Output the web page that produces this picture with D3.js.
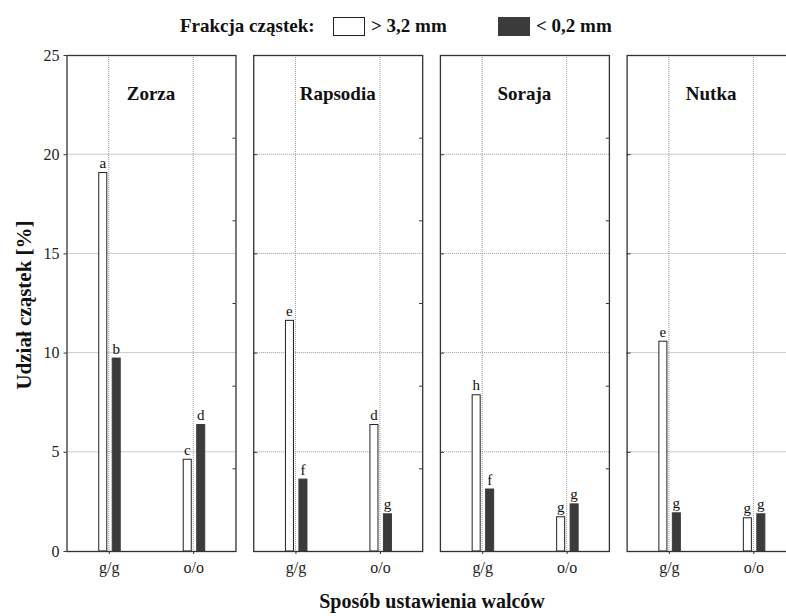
<!DOCTYPE html>
<html>
<head>
<meta charset="utf-8">
<script src="https://cdn.jsdelivr.net/npm/d3@7"></script>
<style>
  body { margin: 0; background: #fff; }
  svg { display: block; font-family: "Liberation Serif", "Times New Roman", serif; }
</style>
</head>
<body>
<svg id="chart" width="786" height="616"></svg>
<script>
// values (udział cząstek, %)
var cultivars = ["Zorza", "Rapsodia", "Soraja", "Nutka"];
var settings = ["g/g", "o/o"];
var fractions = ["> 3,2 mm", "< 0,2 mm"];
var coarse = [[19.1, 4.65], [11.65, 6.4], [7.9, 1.75], [10.6, 1.7]];
var fine = [[9.75, 6.4], [3.65, 1.9], [3.15, 2.4], [1.95, 1.9]];
var coarseLetters = [["a", "c"], ["e", "d"], ["h", "g"], ["e", "g"]];
var fineLetters = [["b", "d"], ["f", "g"], ["f", "g"], ["g", "g"]];
var yTicks = [0, 5, 10, 15, 20, 25];

var svg = d3.select("#chart");
var frameColor = "#333";
var darkFill = "#3b3b3b";

var plotTop = 55, plotBottom = 551;
var y = d3.scaleLinear().domain([0, 25]).range([plotBottom, plotTop]);
// the little ticks on the right edge follow a 0-30 scale
var yRight = d3.scaleLinear().domain([0, 30]).range([plotBottom, plotTop]);

var panel = d3.scaleBand()
    .domain(cultivars)
    .range([66.5, 795.6])
    .paddingInner(0.095);
var pw = panel.bandwidth();

var x = d3.scalePoint().domain(settings).range([0, pw]).padding(0.5);
var sub = d3.scaleBand().domain(fractions).range([-10.5, 12]).paddingInner(0.33);

cultivars.forEach(function(name, i) {
  var g = svg.append("g").attr("transform", "translate(" + panel(name) + ",0)");

  // grid
  g.append("g").selectAll("line")
    .data(yTicks.slice(1, -1))
    .enter().append("line")
      .attr("x1", 0).attr("x2", pw)
      .attr("y1", function(d) { return y(d); })
      .attr("y2", function(d) { return y(d); })
      .attr("stroke", "#999").attr("stroke-dasharray", "1,1");
  g.append("g").selectAll("line")
    .data(settings)
    .enter().append("line")
      .attr("x1", function(d) { return x(d); })
      .attr("x2", function(d) { return x(d); })
      .attr("y1", plotTop).attr("y2", plotBottom)
      .attr("stroke", "#999").attr("stroke-dasharray", "1,1");

  // bars
  settings.forEach(function(s, j) {
    var vals = [coarse[i][j], fine[i][j]];
    var lets = [coarseLetters[i][j], fineLetters[i][j]];
    fractions.forEach(function(f, k) {
      var bx = x(s) + sub(f);
      g.append("rect")
        .attr("x", bx + 0.5)
        .attr("y", y(vals[k]) + 0.5)
        .attr("width", sub.bandwidth() - 1)
        .attr("height", y(0) - y(vals[k]) - 0.5)
        .attr("fill", k === 0 ? "#fff" : darkFill)
        .attr("stroke", k === 0 ? "#222" : darkFill)
        .attr("stroke-width", 1);
      g.append("text")
        .attr("x", bx + sub.bandwidth() / 2)
        .attr("y", y(vals[k]) - 4)
        .attr("text-anchor", "middle")
        .attr("font-size", 15)
        .attr("fill", "#111")
        .text(lets[k]);
    });
  });

  // right edge ticks
  g.append("g")
    .attr("transform", "translate(" + pw + ",0)")
    .call(d3.axisLeft(yRight).tickValues([5, 10, 15, 20, 25]).tickSize(3).tickFormat(""))
    .call(function(a) { a.select(".domain").remove(); a.selectAll("line").attr("stroke", frameColor); });

  // left axis
  if (i === 0) {
    g.append("g")
      .call(d3.axisLeft(y).tickValues(yTicks).tickSize(3).tickPadding(4).tickSizeOuter(0))
      .call(function(a) {
        a.select(".domain").remove();
        a.selectAll("line").attr("stroke", frameColor);
        a.selectAll("text")
          .attr("font-family", "Liberation Serif")
          .attr("font-size", 16)
          .attr("fill", "#222");
      });
  } else {
    g.append("g")
      .call(d3.axisRight(y).tickValues(yTicks.slice(1, -1)).tickSize(4).tickFormat(""))
      .call(function(a) { a.select(".domain").remove(); a.selectAll("line").attr("stroke", frameColor); });
  }

  // bottom axis
  g.append("g")
    .attr("transform", "translate(0," + plotBottom + ")")
    .call(d3.axisBottom(x).tickSize(3).tickPadding(8).tickSizeOuter(0))
    .call(function(a) {
      a.select(".domain").remove();
      a.selectAll("line").attr("stroke", frameColor);
      a.selectAll("text")
        .attr("font-family", "Liberation Serif")
        .attr("font-size", 16)
        .attr("fill", "#222");
    });

  // frame
  g.append("rect")
    .attr("x", 0.5).attr("y", plotTop + 0.5)
    .attr("width", pw).attr("height", plotBottom - plotTop)
    .attr("fill", "none")
    .attr("stroke", frameColor)
    .attr("stroke-width", 1.3);

  // cultivar name
  g.append("text")
    .attr("x", pw / 2)
    .attr("y", 100)
    .attr("text-anchor", "middle")
    .attr("font-size", 19)
    .attr("font-weight", "bold")
    .attr("fill", "#111")
    .text(name);
});

// axis titles
svg.append("text")
  .attr("transform", "translate(31,305) rotate(-90)")
  .attr("text-anchor", "middle")
  .attr("font-size", 21)
  .attr("font-weight", "bold")
  .attr("fill", "#111")
  .text("Udział cząstek [%]");

svg.append("text")
  .attr("x", 432)
  .attr("y", 608)
  .attr("text-anchor", "middle")
  .attr("font-size", 20)
  .attr("font-weight", "bold")
  .attr("fill", "#111")
  .text("Sposób ustawienia walców");

// legend
var legend = svg.append("g");
legend.append("text")
  .attr("x", 180).attr("y", 32)
  .attr("font-size", 19).attr("font-weight", "bold").attr("fill", "#111")
  .text("Frakcja cząstek:");
var legX = [333, 498];
fractions.forEach(function(f, k) {
  legend.append("rect")
    .attr("x", legX[k] + 0.5).attr("y", 17.5)
    .attr("width", 31).attr("height", 18)
    .attr("fill", k === 0 ? "#fff" : darkFill)
    .attr("stroke", k === 0 ? "#222" : darkFill);
  legend.append("text")
    .attr("x", legX[k] + 38).attr("y", 32)
    .attr("font-size", 19).attr("font-weight", "bold").attr("fill", "#111")
    .text(f);
});
</script>
</body>
</html>
